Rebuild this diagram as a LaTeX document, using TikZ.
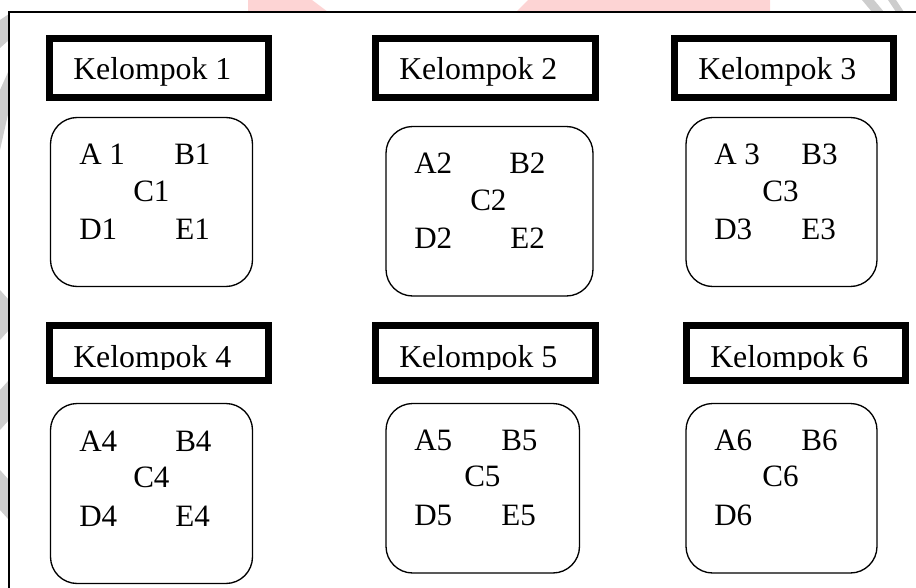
\documentclass[tikz,border=0pt]{standalone}
\usepackage{fontspec}
\setmainfont{Liberation Serif}
\definecolor{wmpink}{RGB}{253,212,212}
\definecolor{wmgrey}{RGB}{205,205,205}
\tikzset{
  titlebox/.style={draw=black, line width=5.2pt},
  groupbox/.style={draw=black, line width=1pt, rounded corners=20pt},
  titletext/.style={anchor=base west, inner sep=0pt, font=\fontsize{23.85pt}{28pt}\selectfont},
  member/.style={anchor=base west, inner sep=0pt, font=\fontsize{23.3pt}{27pt}\selectfont},
}
\begin{document}
\begin{tikzpicture}[x=0.75pt, y=-0.75pt]
\useasboundingbox (0,0) rectangle (916,588);
% faint background marks around the frame
\fill[wmpink] (248,0) -- (312,0) -- (328,12) -- (248,12) -- cycle;
\fill[wmpink] (528,0) -- (770,0) -- (770,12) -- (516,12) -- cycle;
\fill[wmgrey] (862,0) -- (874,0) -- (884,12) -- (872,12) -- cycle;
\fill[wmgrey] (888,0) -- (896,0) -- (904,12) -- (896,12) -- cycle;
\fill[wmgrey] (0,20) -- (9,14) -- (9,40) -- (0,48) -- cycle;
\fill[wmgrey] (0,90) -- (9,70) -- (9,110) -- (0,150) -- cycle;
\fill[wmgrey] (0,290) -- (9,300) -- (9,330) -- (0,340) -- cycle;
\fill[wmgrey] (0,390) -- (9,380) -- (9,420) -- (0,430) -- cycle;
\fill[wmgrey] (0,470) -- (9,480) -- (9,520) -- (0,510) -- cycle;
% outer frame
\draw[fill=white, line width=1pt] (9,12) rectangle (930,600);

% ---- row 1 headings ----
\draw[titlebox] (49.5,38.5) rectangle (268.5,97.5);
\node[titletext] (t1) at (73,80) {Kelompok 1};
\draw[titlebox] (375.5,38.5) rectangle (595.5,97.5);
\node[titletext] (t2) at (399,80) {Kelompok 2};
\draw[titlebox] (674.5,38.5) rectangle (893.5,97.5);
\node[titletext] (t3) at (698,80) {Kelompok 3};

% ---- row 1 groups ----
\draw[groupbox] (50.5,117.5) rectangle (252.5,286.5);
\node[member] (a1) at (79,164) {A 1};
\node[member] (b1) at (174,164) {B1};
\node[member] (c1) at (133,201) {C1};
\node[member] (d1) at (79,239) {D1};
\node[member] (e1) at (175,239) {E1};

\draw[groupbox] (386,126.5) rectangle (593,296);
\node[member] (a2) at (414,173) {A2};
\node[member] (b2) at (509,173) {B2};
\node[member] (c2) at (470,210) {C2};
\node[member] (d2) at (414,248) {D2};
\node[member] (e2) at (510,248) {E2};

\draw[groupbox] (686,117.5) rectangle (877,286.5);
\node[member] (a3) at (714,164) {A 3};
\node[member] (b3) at (801,164) {B3};
\node[member] (c3) at (762,201) {C3};
\node[member] (d3) at (714,239) {D3};
\node[member] (e3) at (801,239) {E3};

% ---- row 2 headings (text cut at the inner edge of the box) ----
\draw[titlebox] (49.5,325.5) rectangle (268.5,380.5);
\begin{scope}
  \clip (53,329) rectangle (265,369);
  \node[titletext] (t4) at (73,367.5) {Kelompok 4};
\end{scope}
\draw[titlebox] (375.5,325.5) rectangle (595.5,380.5);
\begin{scope}
  \clip (379,329) rectangle (592,369);
  \node[titletext] (t5) at (399,367.5) {Kelompok 5};
\end{scope}
\draw[titlebox] (686.5,325.5) rectangle (905.5,380.5);
\begin{scope}
  \clip (690,329) rectangle (902,369);
  \node[titletext] (t6) at (710,367.5) {Kelompok 6};
\end{scope}

% ---- row 2 groups ----
\draw[groupbox] (50.5,403.5) rectangle (252.5,583.5);
\node[member] (a4) at (79,451) {A4};
\node[member] (b4) at (175,451) {B4};
\node[member] (c4) at (133,487) {C4};
\node[member] (d4) at (79,526) {D4};
\node[member] (e4) at (175,526) {E4};

\draw[groupbox] (386,403.5) rectangle (579.5,573);
\node[member] (a5) at (414,450) {A5};
\node[member] (b5) at (501,450) {B5};
\node[member] (c5) at (464,486) {C5};
\node[member] (d5) at (414,525) {D5};
\node[member] (e5) at (501,525) {E5};

\draw[groupbox] (686,403.5) rectangle (877,573);
\node[member] (a6) at (714,450) {A6};
\node[member] (b6) at (801,450) {B6};
\node[member] (c6) at (762,486) {C6};
\node[member] (d6) at (714,525) {D6};
\end{tikzpicture}
\end{document}
